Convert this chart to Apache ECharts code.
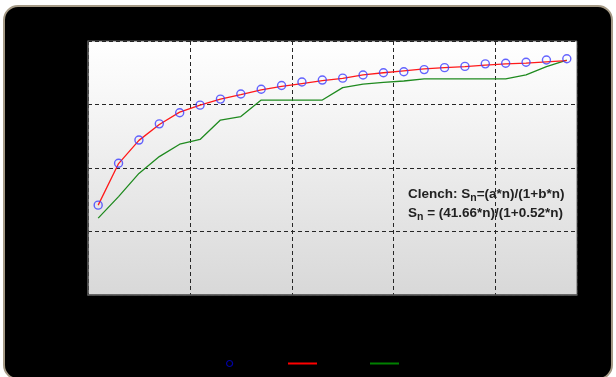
<!DOCTYPE html>
<html>
<head>
<meta charset="utf-8">
<script src="https://cdn.jsdelivr.net/npm/echarts@6/dist/echarts.min.js"></script>
<style>
  html, body { margin: 0; padding: 0; background: #fff; }
  #chart { width: 616px; height: 377px; }
</style>
</head>
<body>
<div id="chart"></div>
<script>
// Sample number n
const sampleSizes = [1, 2, 3, 4, 5, 6, 7, 8, 9, 10, 11, 12, 13, 14, 15, 16, 17, 18, 19, 20, 21, 22, 23, 24];

// Observed accumulation values (blue circles)
const observed = [28.3, 41.5, 48.8, 53.9, 57.4, 59.8, 61.7, 63.3, 64.8, 66.0, 67.1, 67.7,
                  68.3, 69.3, 70.0, 70.3, 71.0, 71.6, 72.0, 72.8, 73.0, 73.3, 74.0, 74.4];

// Clench model curve (red)
const clenchFit = [28.3, 41.4, 48.7, 53.7, 57.6, 59.8, 61.7, 63.1, 64.6, 65.7, 66.6, 67.5,
                   68.2, 69.3, 70.0, 70.6, 71.2, 71.6, 71.9, 72.4, 72.8, 73.0, 73.4, 73.8];

// Second accumulation curve (green)
const secondCurve = [24.2, 31.0, 38.3, 43.6, 47.5, 49.0, 55.1, 56.2, 61.4, 61.4, 61.4, 61.4,
                     65.3, 66.4, 67.0, 67.4, 68.1, 68.1, 68.1, 68.1, 68.1, 69.3, 71.9, 74.0];

const seriesNames = ['Observed', 'Clench', 'Curve'];

const pair = vals => sampleSizes.map((n, i) => [n, vals[i]]);

const gridLine = { show: true, lineStyle: { color: '#262626', width: 1, type: [4, 3] } };

const chart = echarts.init(document.getElementById('chart'), null, { renderer: 'canvas' });

const legendBase = {
  orient: 'horizontal',
  top: 358,
  padding: 0,
  itemWidth: 29,
  itemHeight: 2,
  textStyle: { color: '#000', fontSize: 11 },
  selectedMode: false
};

chart.setOption({
  backgroundColor: '#fff',
  animation: false,
  grid: {
    left: 88, top: 41, width: 489, height: 254,
    show: true,
    borderColor: '#666',
    borderWidth: 1,
    backgroundColor: {
      type: 'linear', x: 0, y: 0, x2: 0, y2: 1,
      colorStops: [{ offset: 0, color: '#ffffff' }, { offset: 0.25, color: '#f6f6f6' }, { offset: 1, color: '#d8d8d8' }]
    }
  },
  legend: [
    Object.assign({}, legendBase, {
      left: 226, itemWidth: 6, itemHeight: 6,
      data: [{ name: seriesNames[0], icon: 'circle', itemStyle: { color: 'rgba(0,0,0,0)', borderColor: '#0000cc', borderWidth: 1.2 } }]
    }),
    Object.assign({}, legendBase, { left: 288, data: [{ name: seriesNames[1], icon: 'rect', itemStyle: { color: '#ff0000' } }] }),
    Object.assign({}, legendBase, { left: 370, data: [{ name: seriesNames[2], icon: 'rect', itemStyle: { color: '#008000' } }] })
  ],
  xAxis: [
    {
      type: 'value', min: 0.5, max: 24.5,
      axisLine: { show: true, lineStyle: { color: '#555', width: 1.5 } },
      axisTick: { show: false }, axisLabel: { show: false }, splitLine: { show: false }
    },
    {
      // companion scale used only for the vertical dashed grid
      type: 'value', min: 0, max: 24, interval: 5, position: 'bottom',
      axisLine: { show: false }, axisTick: { show: false }, axisLabel: { show: false },
      splitLine: gridLine
    }
  ],
  yAxis: {
    type: 'value', min: 0, max: 80, interval: 20,
    axisLine: { show: true, lineStyle: { color: '#555', width: 1.5 } },
    axisTick: { show: false }, axisLabel: { show: false },
    splitLine: gridLine
  },
  series: [
    {
      name: seriesNames[2], type: 'line', xAxisIndex: 0, data: pair(secondCurve),
      symbol: 'none', lineStyle: { color: '#1f8a1f', width: 1.3 }, itemStyle: { color: '#008000' }, z: 3
    },
    {
      name: seriesNames[1], type: 'line', xAxisIndex: 0, data: pair(clenchFit),
      symbol: 'none', lineStyle: { color: '#ff1a1a', width: 1.3 }, itemStyle: { color: '#ff0000' }, z: 4
    },
    {
      name: seriesNames[0], type: 'scatter', xAxisIndex: 0, data: pair(observed),
      symbol: 'circle', symbolSize: 8,
      itemStyle: { color: 'rgba(0,0,0,0)', borderColor: '#3c3cff', borderWidth: 1.4 }, z: 5
    }
  ],
  graphic: {
    elements: [
      {
        type: 'rect', z: -100, silent: true,
        shape: { x: 4, y: 6, width: 608, height: 373, r: 14 },
        style: { fill: '#000', stroke: '#a59a86', lineWidth: 2 }
      },
      {
        type: 'text', z: 100, left: 408, top: 187,
        style: {
          text: '{b|Clench: S}{s|n}{b|=(a*n)/(1+b*n)}\n{b|S}{s|n}{b| = (41.66*n)/(1+0.52*n)}',
          rich: {
            b: { fontFamily: 'Liberation Sans, Arial, sans-serif', fontWeight: 'bold', fontSize: 13.5, fill: '#222', lineHeight: 19 },
            s: { fontFamily: 'Liberation Sans, Arial, sans-serif', fontWeight: 'bold', fontSize: 10.5, fill: '#222', lineHeight: 16, verticalAlign: 'bottom' }
          }
        }
      }
    ]
  }
});
</script>
</body>
</html>
